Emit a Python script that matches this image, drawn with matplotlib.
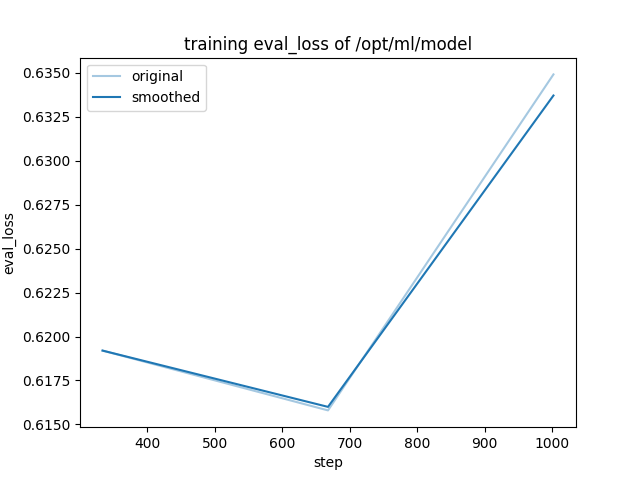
import matplotlib
matplotlib.use("Agg")
import matplotlib.pyplot as plt

steps = [334, 668, 1002]
original = [0.6192, 0.6158, 0.6349]
smoothed = [0.6192, 0.6160, 0.6337]

fig, ax = plt.subplots(figsize=(6.4, 4.8), dpi=100)
ax.plot(steps, original, color="C0", alpha=0.4, label="original")
ax.plot(steps, smoothed, color="C0", label="smoothed")
ax.set_title("training eval_loss of /opt/ml/model")
ax.set_xlabel("step")
ax.set_ylabel("eval_loss")
ax.legend(loc="upper left")
fig.savefig("out.png")
